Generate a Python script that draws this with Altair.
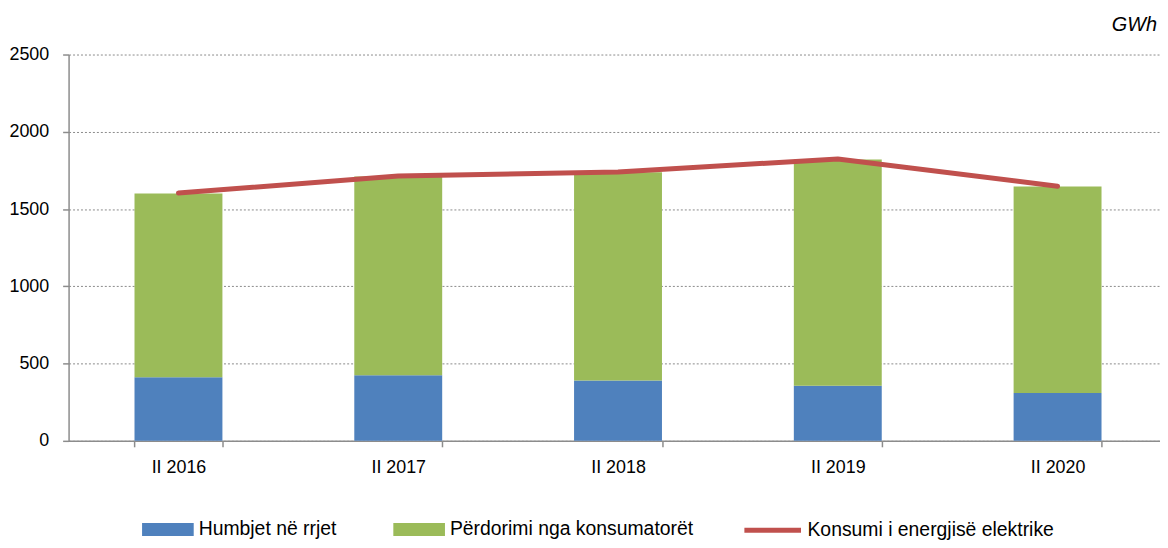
import altair as alt
import pandas as pd

categories = ["II 2016", "II 2017", "II 2018", "II 2019", "II 2020"]
losses = [411, 424, 390, 356, 309]
usage = [1190, 1286, 1348, 1464, 1337]
consumption = [1604, 1714, 1740, 1824, 1648]
series_names = ["Humbjet në rrjet", "Përdorimi nga konsumatorët"]
line_name = "Konsumi i energjisë elektrike"
y_ticks = [0, 500, 1000, 1500, 2000, 2500]

rows = []
for c, l, u in zip(categories, losses, usage):
    rows.append({"cat": c, "series": series_names[0], "value": l, "ord": 0})
    rows.append({"cat": c, "series": series_names[1], "value": u, "ord": 1})
bars_df = pd.DataFrame(rows)
line_df = pd.DataFrame({"cat": categories, "value": consumption, "series": [line_name] * len(categories)})

AXFONT = "Liberation Sans"
LGFONT = "Liberation Sans"
GRAY = "#8c8c8c"

x_scale = alt.Scale(paddingInner=0.6, paddingOuter=0.3, range=[0, 1106.5])
x_axis = alt.Axis(labelAngle=0, tickBand="extent", labelFont=AXFONT, labelFontSize=18,
                  labelColor="#000", tickColor=GRAY, tickSize=6, tickWidth=1.5,
                  domainColor=GRAY, domainWidth=1.5, labelPadding=12, grid=False)
y_scale = alt.Scale(domain=[0, 2500], nice=False)
y_axis = alt.Axis(values=y_ticks, format="d", labelFont=AXFONT, labelFontSize=18, labelColor="#000",
                  tickColor=GRAY, tickSize=6, tickWidth=1.5, domainColor=GRAY, domainWidth=1.5,
                  labelPadding=14, grid=True, gridColor="#8a8a8a", gridDash=[2, 2], gridWidth=1)

bars = alt.Chart(bars_df).mark_bar().encode(
    x=alt.X("cat:N", sort=categories, title=None, scale=x_scale, axis=x_axis),
    y=alt.Y("value:Q", stack="zero", title=None, scale=y_scale, axis=y_axis),
    color=alt.Color(
        "series:N",
        scale=alt.Scale(domain=series_names, range=["#4F81BD", "#9BBB59"]),
        legend=alt.Legend(title=None, orient="none", legendX=74, legendY=452, direction="horizontal",
                          symbolType="M-1,-0.25H1V0.25H-1Z", symbolSize=2704, symbolStrokeWidth=0,
                          symbolOpacity=1, labelFont=LGFONT, labelFontSize=19.5, labelColor="#000",
                          labelOffset=5, columnPadding=57, padding=0, labelLimit=400),
    ),
    order=alt.Order("ord:Q", sort="ascending"),
)

line = alt.Chart(line_df).mark_line(strokeWidth=5, strokeCap="round", strokeJoin="round").encode(
    x=alt.X("cat:N", sort=categories, title=None, scale=x_scale, axis=x_axis),
    y=alt.Y("value:Q", title=None, scale=y_scale, axis=y_axis),
    stroke=alt.Stroke(
        "series:N",
        scale=alt.Scale(domain=[line_name], range=["#C0504D"]),
        legend=alt.Legend(title=None, orient="none", legendX=678, legendY=448, direction="horizontal",
                          symbolType="stroke", symbolSize=3249, symbolStrokeWidth=5,
                          labelFont=LGFONT, labelFontSize=19.5, labelColor="#000",
                          labelOffset=4, padding=0, labelLimit=400),
    ),
)

chart = alt.layer(bars, line).properties(
    width=1099,
    height=389,
    autosize=alt.AutoSizeParams(type="none"),
    padding={"left": 61, "top": 45, "right": 0, "bottom": 98},
    title=alt.TitleParams("GWh", anchor="end", frame="group", fontStyle="italic", fontWeight="normal",
                          font=LGFONT, fontSize=20, color="#000", offset=11, dx=-3),
).configure_view(stroke=None)

chart.save("out.html", embed_options={"renderer": "svg", "actions": False})
